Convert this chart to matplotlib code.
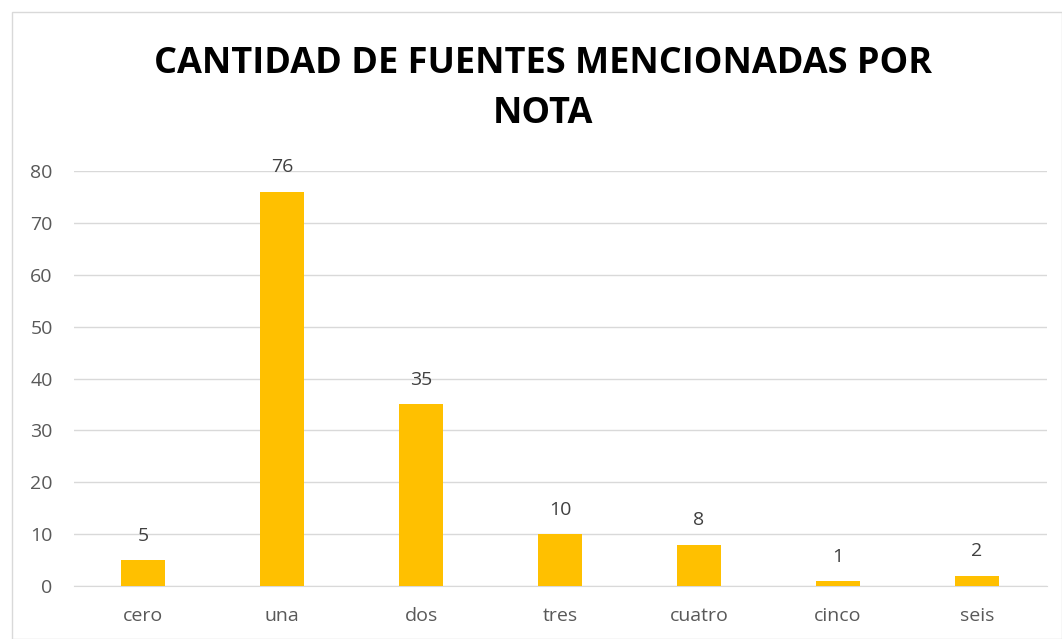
import matplotlib
matplotlib.use("Agg")
import matplotlib.pyplot as plt
from matplotlib.patches import Rectangle

categories = ["cero", "una", "dos", "tres", "cuatro", "cinco", "seis"]
values = [5, 76, 35, 10, 8, 1, 2]
yticks = [0, 10, 20, 30, 40, 50, 60, 70, 80]
title = "CANTIDAD DE FUENTES MENCIONADAS POR\nNOTA"

plt.rcParams['font.family'] = ['Open Sans', 'DejaVu Sans']

W, H = 1062, 639
fig = plt.figure(figsize=(W/100, H/100), dpi=100)
fig.patch.set_facecolor("white")
fig.patches.append(Rectangle((12/W, 0), 1 - 12/W, 1 - 12/H, transform=fig.transFigure,
                             fill=False, edgecolor="#D9D9D9", linewidth=1))

ax = fig.add_axes([73.5/W, 1 - 586/H, (1046.5 - 73.5)/W, (586 - 171)/H])
x = range(len(categories))
bars = ax.bar(x, values, width=0.32, color="#FFC000", zorder=3)
ax.set_xlim(-0.5, len(categories) - 0.5)
ax.set_ylim(0, 80)
ax.set_yticks(yticks)
ax.set_xticks(list(x))
ax.set_xticklabels(categories)
ax.yaxis.grid(True, color="#D9D9D9", linewidth=1, zorder=0)
for s in ["top", "right", "left"]:
    ax.spines[s].set_visible(False)
ax.spines["bottom"].set_color("#D9D9D9")
ax.tick_params(axis="both", length=0, labelsize=14, colors="#595959")
ax.tick_params(axis="x", pad=15)
ax.tick_params(axis="y", pad=15)

for xi, v in zip(x, values):
    ax.annotate(str(v), (xi, v), xytext=(0, 11), textcoords="offset points",
                ha="center", va="bottom", fontsize=14, color="#404040")

fig.text(543/W, 1 - 89/H, title, ha="center", va="center", fontsize=26,
         fontweight="bold", color="black", linespacing=1.55)

fig.savefig("out.png", dpi=100)
